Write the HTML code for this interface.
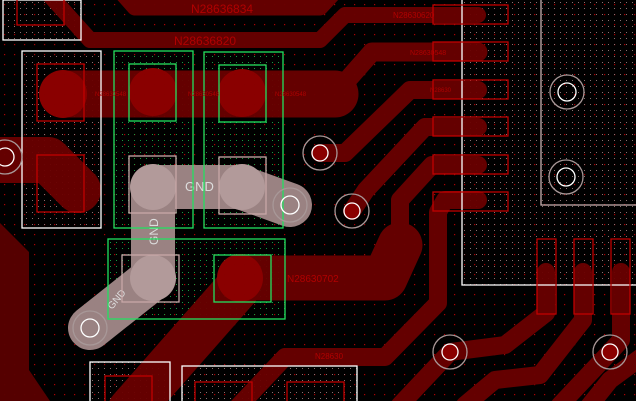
<!DOCTYPE html>
<html><head><meta charset="utf-8"><style>
html,body{margin:0;padding:0;background:#000;}
svg{display:block;}
text{font-family:"Liberation Sans",sans-serif;}
</style></head><body>
<svg width="636" height="401" viewBox="0 0 636 401" xmlns="http://www.w3.org/2000/svg">
<defs>
<pattern id="dots" width="10" height="10" patternUnits="userSpaceOnUse">
<rect x="4" y="4" width="1.2" height="1.2" fill="#b00000"/>
</pattern>
<pattern id="wdots" width="6" height="6" patternUnits="userSpaceOnUse">
<rect x="2" y="2" width="1" height="1" fill="#8a7070"/>
</pattern>
<pattern id="gdots" width="6" height="6" patternUnits="userSpaceOnUse">
<rect x="2" y="2" width="1" height="1" fill="#1a9a40"/>
</pattern>
</defs>
<rect width="636" height="401" fill="#000"/>
<rect width="636" height="401" fill="url(#dots)"/>
<rect x="462" y="0" width="174" height="285" fill="url(#wdots)"/>
<rect x="22" y="51" width="79" height="177" fill="url(#wdots)"/>
<rect x="3" y="0" width="78" height="40" fill="url(#wdots)"/>
<rect x="114" y="51" width="79" height="177" fill="url(#gdots)"/>
<rect x="204" y="52" width="79" height="176" fill="url(#gdots)"/>
<rect x="108" y="239" width="177" height="80" fill="url(#gdots)"/>
<rect x="90" y="362" width="80" height="39" fill="url(#wdots)"/>
<rect x="182" y="366" width="175" height="35" fill="url(#wdots)"/>

<g fill="none" stroke="#6a0000" stroke-linejoin="round" stroke-linecap="round" opacity="0.95">
<polygon points="0,223 29,252 29,370 50,401 0,401" fill="#5a0000" stroke="none"/>
<polyline points="120,-10 135,7 320,7 345,-20" stroke-width="17"/>
<polyline points="45,-10 90,40 320,40 345,15 478,15" stroke-width="16"/>
<polyline points="63,94 335,94" stroke-width="47"/>
<polyline points="335,94 372,52 478,52" stroke-width="19"/>
<polyline points="320,153 345,153 410,90 478,90" stroke-width="18"/>
<polyline points="352,211 366,190 425,127 478,127" stroke-width="18"/>
<polyline points="400,240 400,200 432,165 478,165" stroke-width="18"/>
<polyline points="240,278 385,278 400,245" stroke-width="45"/>
<polyline points="240,285 130,410" stroke-width="45"/>
<polyline points="478,200 445,200 438,212 438,303 385,357 285,357 235,410" stroke-width="18"/>
<polyline points="-10,160 48,160 78,190" stroke-width="46"/>
<polyline points="546,272 546,313 505,345 450,352 400,405" stroke-width="18"/>
<polyline points="583,272 583,320 540,375 495,380 465,405" stroke-width="18"/>
<polyline points="621,272 621,340 610,352 560,405" stroke-width="18"/>
<polyline points="640,358 610,380 590,405" stroke-width="18"/>
</g>
<g fill="#8a0000">
<circle cx="63" cy="94" r="24"/>
<circle cx="153" cy="92" r="24"/>
<circle cx="242" cy="93" r="24"/>
<ellipse cx="240" cy="278" rx="23" ry="24"/>
</g>

<g fill="none" stroke="#9a8282" stroke-linecap="round" stroke-linejoin="round">
<polyline points="153,187 240,187 290,205" stroke-width="44"/>
<polyline points="153,187 153,278 90,328" stroke-width="44"/>
</g>
<g fill="#b29a9a">
<circle cx="153" cy="187" r="23"/>
<circle cx="242" cy="187" r="23"/>
<circle cx="153" cy="278" r="23"/>
</g>
<text x="185" y="191" font-size="13" fill="#ddd">GND</text>
<text x="0" y="0" font-size="12" fill="#ddd" transform="translate(158,245) rotate(-90)">GND</text>
<text x="0" y="0" font-size="10" fill="#ddd" transform="translate(112,310) rotate(-50)">GND</text>

<g fill="none" stroke-width="1.3">
<rect x="3" y="0" width="78" height="40" stroke="#fff"/>
<rect x="22" y="51" width="79" height="177" stroke="#fff"/>
<rect x="90" y="362" width="80" height="45" stroke="#fff"/>
<rect x="182" y="366" width="175" height="45" stroke="#fff"/>
<polyline points="462,0 462,285 640,285" stroke="#fff"/>
<polyline points="541,0 541,205 640,205" stroke="#c8b0b0"/>
<rect x="114" y="51" width="79" height="177" stroke="#22e060"/>
<rect x="204" y="52" width="79" height="176" stroke="#22e060"/>
<rect x="129" y="64" width="47" height="57" stroke="#22e060"/>
<rect x="219" y="65" width="47" height="57" stroke="#22e060"/>
<rect x="108" y="239" width="177" height="80" stroke="#22e060"/>
<rect x="214" y="255" width="57" height="47" stroke="#22e060"/>
<rect x="129" y="156" width="47" height="57" stroke="#c8a8a8"/>
<rect x="219" y="157" width="47" height="57" stroke="#c8a8a8"/>
<rect x="122" y="255" width="57" height="47" stroke="#c8a8a8"/>
<g stroke="#c00000">
<rect x="37" y="64" width="47" height="57"/>
<rect x="37" y="155" width="47" height="57"/>
<rect x="17" y="-2" width="47" height="27"/>
<rect x="433" y="5" width="75" height="19"/>
<rect x="433" y="42" width="75" height="19"/>
<rect x="433" y="80" width="75" height="19"/>
<rect x="433" y="117" width="75" height="19"/>
<rect x="433" y="155" width="75" height="19"/>
<rect x="433" y="192" width="75" height="19"/>
<rect x="537" y="239" width="19" height="75"/>
<rect x="574" y="239" width="19" height="75"/>
<rect x="611" y="239" width="19" height="75"/>
<rect x="105" y="376" width="47" height="30"/>
<rect x="195" y="382" width="57" height="30"/>
<rect x="287" y="382" width="57" height="30"/>
</g>
</g>

<g stroke-width="1.3">
<g fill="none"><circle cx="5" cy="157" r="17" stroke="#a89898"/><circle cx="5" cy="157" r="9" stroke="#fff"/></g>
<g><circle cx="320" cy="153" r="17" fill="none" stroke="#a89898"/><circle cx="320" cy="153" r="8" fill="#8a0000" stroke="#fff"/></g>
<g><circle cx="352" cy="211" r="17" fill="none" stroke="#a89898"/><circle cx="352" cy="211" r="8" fill="#8a0000" stroke="#fff"/></g>
<g fill="none"><circle cx="290" cy="205" r="17" stroke="#a89898"/><circle cx="290" cy="205" r="9" stroke="#fff"/></g>
<g fill="none"><circle cx="90" cy="328" r="17" stroke="#a89898"/><circle cx="90" cy="328" r="9" stroke="#fff"/></g>
<g><circle cx="450" cy="352" r="17" fill="none" stroke="#a89898"/><circle cx="450" cy="352" r="8" fill="#8a0000" stroke="#fff"/></g>
<g><circle cx="610" cy="352" r="17" fill="none" stroke="#a89898"/><circle cx="610" cy="352" r="8" fill="#8a0000" stroke="#fff"/></g>
<g fill="none"><circle cx="567" cy="92" r="17" stroke="#a89898"/><circle cx="567" cy="92" r="9" stroke="#fff"/></g>
<g fill="none"><circle cx="566" cy="177" r="17" stroke="#a89898"/><circle cx="566" cy="177" r="9" stroke="#fff"/></g>
</g>

<g fill="#b00000">
<text x="191" y="13" font-size="12">N28636834</text>
<text x="174" y="45" font-size="12">N28636820</text>
<text x="287" y="282" font-size="10">N28630702</text>
<text x="393" y="18" font-size="8">N28630620</text>
<text x="410" y="55" font-size="7">N28630548</text>
<text x="430" y="92" font-size="6">N28630</text>
<text x="95" y="96" font-size="6">N28630548</text>
<text x="188" y="96" font-size="6">N28630548</text>
<text x="275" y="96" font-size="6">N28630548</text>
<text x="315" y="359" font-size="8">N28630</text>
</g>
</svg>
</body></html>
